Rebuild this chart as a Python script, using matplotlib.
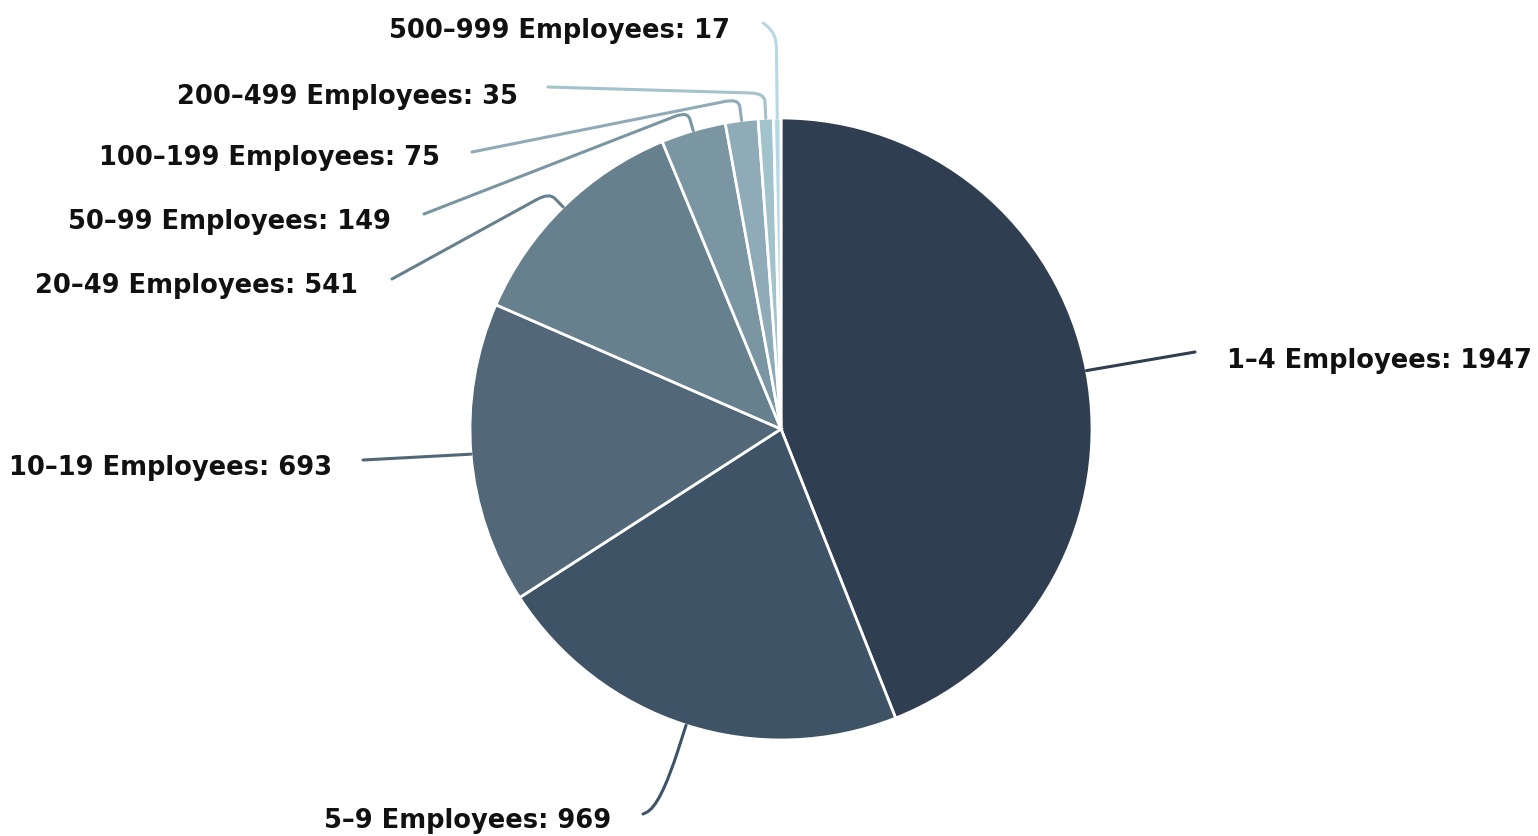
import matplotlib.pyplot as plt
from matplotlib.path import Path
from matplotlib.patches import PathPatch
import numpy as np

# data
labels = ["1–4 Employees", "5–9 Employees", "10–19 Employees", "20–49 Employees",
          "50–99 Employees", "100–199 Employees", "200–499 Employees", "500–999 Employees"]
counts = [1947, 969, 693, 541, 149, 75, 35, 17]
colors = ["#2f3e50", "#3f5366", "#526879", "#66808d",
          "#7a96a2", "#8eabb7", "#a2c2cc", "#b8d8e2"]

W, H = 1538, 837
CX, CY, R = 781, 430, 311   # pixel coords, y down

# label layout (pixels, y down): elbow distance beyond edge, corner radii, line end, text anchor
elbow_out = [3, 85, 2, 20, 20, 22, 25, 85]
corner = [(2, 20), (60, 22), (1, 20), (8, 14), (8, 14), (8, 14), (8, 14), (14, 12)]
line_end = [(1195, 353), (643, 815), (363, 461), (392, 280),
            (424, 215), (472, 153), (548, 88), (763, 24)]
text_pos = [(1227, 361), (468, 821), (332, 468), (358, 286),
            (391, 222), (440, 158), (518, 97), (730, 31)]
text_ha = ["left", "center", "right", "right", "right", "right", "right", "right"]


def px(x, y):
    return x, H - y


fig = plt.figure(figsize=(W / 100, H / 100), dpi=100)
ax = fig.add_axes([0, 0, 1, 1])

wedges, _ = ax.pie(counts, colors=colors, startangle=90, counterclock=False,
                   center=px(CX, CY), radius=R,
                   wedgeprops=dict(edgecolor='white', linewidth=2))
ax.set_xlim(0, W)
ax.set_ylim(0, H)
ax.set_aspect('equal')
ax.axis('off')

for i, w in enumerate(wedges):
    ang = np.deg2rad((w.theta1 + w.theta2) / 2)
    ux, uy = np.cos(ang), np.sin(ang)
    cx, cy = px(CX, CY)
    p0 = np.array([cx + R * ux, cy + R * uy])
    pe = p0 + elbow_out[i] * np.array([ux, uy])
    p3 = np.array(px(*line_end[i]))
    # rounded corner at the elbow
    d1 = pe - p0
    d2 = p3 - pe
    r1 = min(corner[i][0], np.linalg.norm(d1) * 0.7)
    r2 = min(corner[i][1], np.linalg.norm(d2) * 0.8)
    a = pe - d1 / (np.linalg.norm(d1) + 1e-9) * r1
    b = pe + d2 / (np.linalg.norm(d2) + 1e-9) * r2
    verts = [p0, a, pe, b, p3]
    codes = [Path.MOVETO, Path.LINETO, Path.CURVE3, Path.CURVE3, Path.LINETO]
    ax.add_patch(PathPatch(Path(verts, codes), facecolor='none',
                           edgecolor=colors[i], linewidth=2.2, capstyle='round'))
    tx, ty = px(*text_pos[i])
    ax.text(tx, ty, f"{labels[i]}: {counts[i]}", ha=text_ha[i], va='center',
            fontsize=18.5, fontweight='bold', color='#111111', family='DejaVu Sans')

plt.savefig('out.png', dpi=100)
